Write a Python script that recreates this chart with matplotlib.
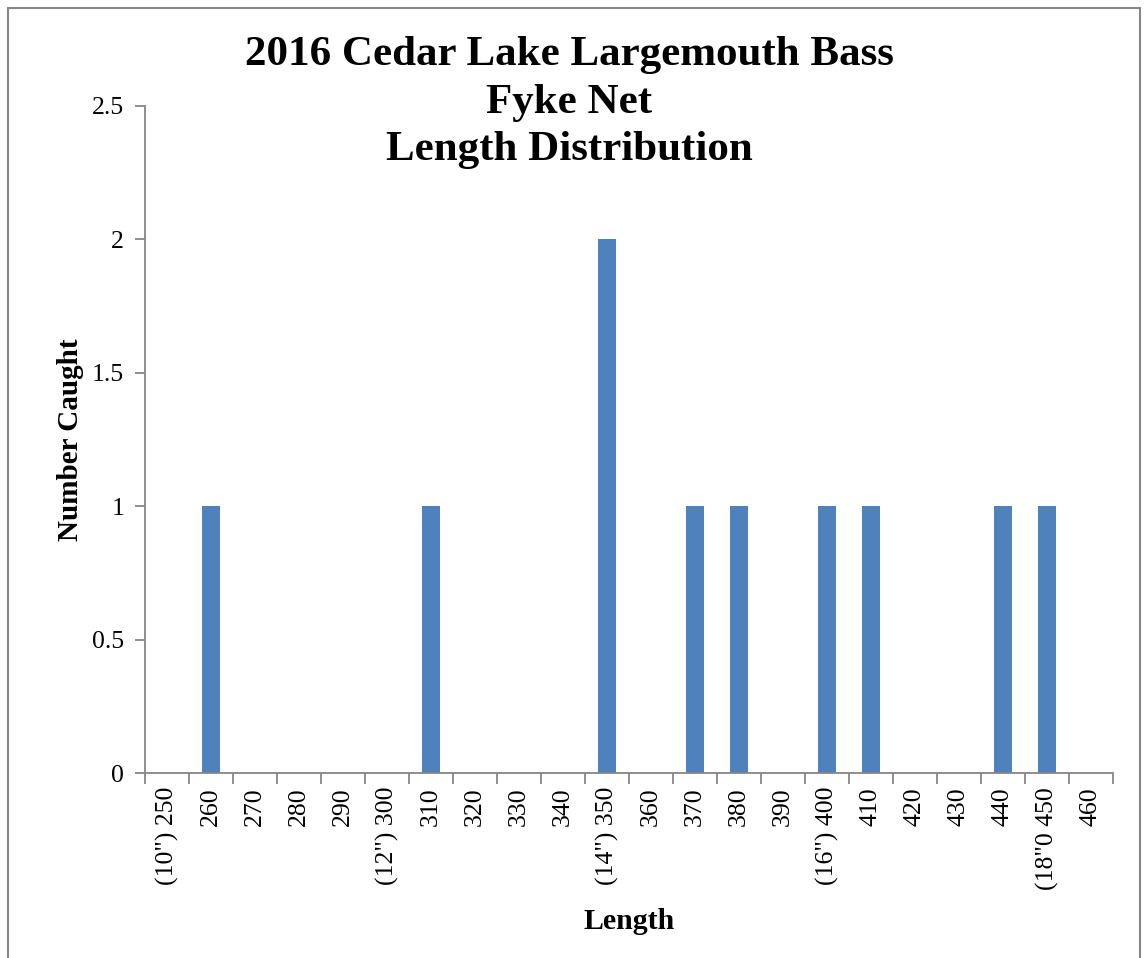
import matplotlib.pyplot as plt
from matplotlib.patches import Rectangle

lengths = [250, 260, 270, 280, 290, 300, 310, 320, 330, 340, 350,
           360, 370, 380, 390, 400, 410, 420, 430, 440, 450, 460]
tick_labels = ['(10") 250', '260', '270', '280', '290', '(12") 300', '310',
               '320', '330', '340', '(14") 350', '360', '370', '380', '390',
               '(16") 400', '410', '420', '430', '440', '(18"0 450', '460']
caught = [0, 1, 0, 0, 0, 0, 1, 0, 0, 0, 2, 0, 1, 1, 0, 1, 1, 0, 0, 1, 1, 0]

plt.rcParams['font.family'] = ['Liberation Serif', 'DejaVu Serif']

fig = plt.figure(figsize=(11.48, 9.58), dpi=100)
ax = fig.add_axes([0.1263, 0.1931, 0.8432, 0.6963])

x = list(range(len(lengths)))
ax.bar(x, caught, width=0.39, color='#4F81BD')

ax.set_xlim(-0.5, len(lengths) - 0.5)
ax.set_ylim(0, 2.5)
ax.set_yticks([0, 0.5, 1, 1.5, 2, 2.5])
ax.set_yticklabels(['0', '0.5', '1', '1.5', '2', '2.5'], fontsize=18.5)
ax.set_xticks(x)
ax.set_xticklabels(tick_labels, rotation=90, fontsize=18.5)
ax.tick_params(axis='x', length=0, pad=10)
# category boundary ticks, Excel style
ax.set_xticks([i - 0.5 for i in range(len(lengths) + 1)], minor=True)
ax.tick_params(axis='x', which='minor', length=8, color='#868686', width=1.3)
ax.tick_params(axis='y', length=7, color='#868686', width=1.3, pad=8)

for s in ['top', 'right']:
    ax.spines[s].set_visible(False)
for s in ['left', 'bottom']:
    ax.spines[s].set_color('#868686')
    ax.spines[s].set_linewidth(1.3)

ax.set_xlabel('Length', fontsize=21.5, fontweight='bold', labelpad=13)
ax.set_ylabel('Number Caught', fontsize=21, fontweight='bold', labelpad=6)

fig.text(0.496, 0.893, '2016 Cedar Lake Largemouth Bass\nFyke Net\nLength Distribution',
         ha='center', va='center', fontsize=31, fontweight='bold', linespacing=1.33)

fig.patches.append(Rectangle((8 / 1148, -0.05), 1132 / 1148, 1.05 - 8 / 958,
                             transform=fig.transFigure, fill=False,
                             edgecolor='#868686', linewidth=1.5))

fig.savefig('out.png', dpi=100)
